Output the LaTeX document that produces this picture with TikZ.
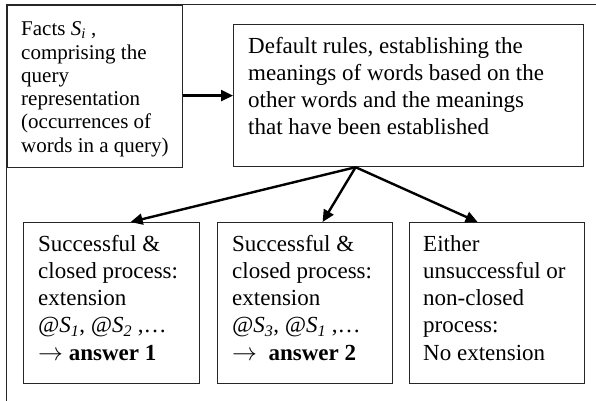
\documentclass[tikz,border=0pt]{standalone}
\usepackage{fontspec}
\setmainfont{Liberation Serif}
\usetikzlibrary{arrows.meta}
\begin{document}
\begin{tikzpicture}[x=1pt,y=-1pt,
  box/.style={draw=black!85, line width=1.2pt, inner sep=0pt, anchor=north west},
  txt/.style={font=\fontsize{23}{27.2}\selectfont, align=left, inner sep=0pt, anchor=north west},
  smalltxt/.style={font=\fontsize{21}{23.3}\selectfont, align=left, inner sep=0pt, anchor=north west},
  arr/.style={line width=2.4pt, -{Triangle[length=12pt,width=11pt]}}]
\useasboundingbox (0,0) rectangle (596,400);
\begin{scope}
  \clip (0,0) rectangle (596,400);
  \draw[draw=black!85, line width=1.2pt] (6.5,4.5) rectangle (640,440);
\end{scope}
% boxes
\node[box, minimum width=175.5pt, minimum height=162pt] (facts) at (6.5,4.5) {};
\node[box, minimum width=350pt, minimum height=142pt] (def) at (233,24) {};
\node[box, minimum width=176pt, minimum height=161pt] (b1) at (23,222) {};
\node[box, minimum width=175pt, minimum height=161pt] (b2) at (217,222) {};
\node[box, minimum width=175pt, minimum height=161pt] (b3) at (409,222) {};
% texts (first line baseline = top + 0.7 baselineskip)
\node[smalltxt] (factstext) at (21,19.2) {\strut Facts \textit{S}\textsubscript{\textit{i}} ,\\comprising the\\query\\representation\\(occurrences of\\words in a query)};
\node[txt] (deftext) at (248,34) {\strut Default rules, establishing the\\meanings of words based on the\\other words and the meanings\\that have been established};
\node[txt] (b1text) at (38,232) {\strut Successful \&\\closed process:\\extension\\\textit{@S\textsubscript{1}}, \textit{@S\textsubscript{2}} ,…\\$\rightarrow$ \textbf{answer 1}};
\node[txt] (b2text) at (232,232) {\strut Successful \&\\closed process:\\extension\\\textit{@S\textsubscript{3}}, \textit{@S\textsubscript{1}} ,…\\$\rightarrow$ \ \textbf{answer 2}};
\node[txt] (b3text) at (423,232) {\strut Either\\unsuccessful or\\non-closed\\process:\\No extension};
% connectors
\draw[arr] (facts.east |- def.west) -- (def.west);
\draw[arr] ([xshift=-53pt]def.south) -- ([xshift=19pt]b1.north);
\draw[arr] ([xshift=-53pt]def.south) -- ([xshift=17.5pt]b2.north);
\draw[arr] ([xshift=-53pt]def.south) -- ([xshift=-19.5pt]b3.north);
\end{tikzpicture}
\end{document}
